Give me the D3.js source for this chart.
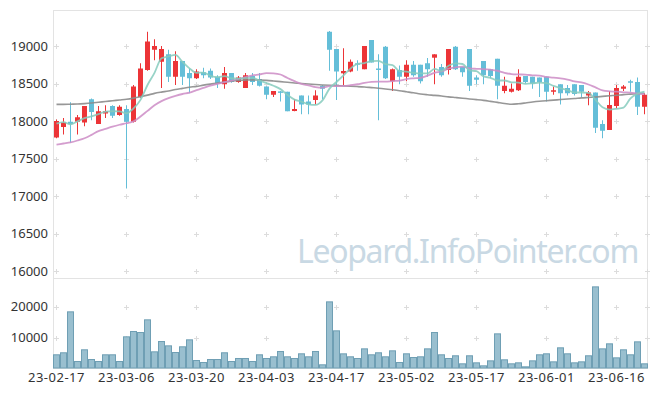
<!DOCTYPE html>
<html lang="ko">
<head>
    <meta charset="utf-8">
    <title>Leopard candle chart</title>
    <script src="https://d3js.org/d3.v7.min.js"></script>
    <style>
        body { margin: 0; background: #fff; }
        svg { display: block; }
        text { font-family: "Noto Sans", sans-serif; }
    </style>
</head>
<body>
<div id="chart"></div>
<script>
    // trading days shown on the chart
    const dates = [
        "23-02-17","23-02-20","23-02-21","23-02-22","23-02-23","23-02-24","23-02-27","23-02-28",
        "23-03-02","23-03-03","23-03-06","23-03-07","23-03-08","23-03-09","23-03-10","23-03-13",
        "23-03-14","23-03-15","23-03-16","23-03-17","23-03-20","23-03-21","23-03-22","23-03-23",
        "23-03-24","23-03-27","23-03-28","23-03-29","23-03-30","23-03-31",
        "23-04-03","23-04-04","23-04-05","23-04-06","23-04-07","23-04-10","23-04-11","23-04-12",
        "23-04-13","23-04-14","23-04-17","23-04-18","23-04-19","23-04-20","23-04-21","23-04-24",
        "23-04-25","23-04-26","23-04-27","23-04-28",
        "23-05-02","23-05-03","23-05-04","23-05-08","23-05-09","23-05-10","23-05-11","23-05-12",
        "23-05-15","23-05-16","23-05-17","23-05-18","23-05-19","23-05-22","23-05-23","23-05-24",
        "23-05-25","23-05-26","23-05-30","23-05-31",
        "23-06-01","23-06-02","23-06-05","23-06-07","23-06-08","23-06-09","23-06-12","23-06-13",
        "23-06-14","23-06-15","23-06-16","23-06-19","23-06-20","23-06-21","23-06-22"
    ];

    const opens = [
        17780,17920,17990,17990,17980,18290,17960,18100,18200,18080,
        18160,17990,18320,18680,18950,18790,18890,18590,18800,18640,
        18570,18650,18670,18590,18490,18640,18520,18440,18600,18560,
        18460,18350,18395,18390,18133,18340,18260,18280,18470,19190,
        18960,18636,18660,18770,18690,19080,18700,18990,18530,18680,
        18590,18750,18750,18770,18844,18720,18680,18990,18720,18960,
        18580,18800,18690,18830,18400,18390,18410,18600,18590,18580,
        18590,18390,18490,18440,18490,18480,18340,18380,17960,17880,
        18200,18430,18530,18520,18190
    ];
    const highs = [
        18020,18040,18250,18080,18200,18300,18200,18210,18210,18210,
        18210,18480,18770,19190,19090,19000,18950,18930,18800,18700,
        18690,18710,18700,18610,18720,18640,18600,18640,18640,18640,
        18460,18400,18400,18390,18290,18340,18340,18410,18480,19200,
        18960,18970,18820,18810,19000,19080,18890,19000,18700,18740,
        18810,18800,18750,18840,18890,18760,18960,19000,18720,18960,
        18610,18800,18690,18830,18590,18500,18690,18600,18590,18580,
        18590,18460,18490,18480,18490,18480,18400,18380,18010,18400,
        18480,18480,18550,18580,18370
    ];
    const lows = [
        17770,17820,17710,17820,17930,18010,17960,18040,18040,18070,
        17100,17980,18310,18670,18810,18440,18520,18480,18480,18370,
        18560,18570,18560,18440,18430,18510,18510,18440,18480,18460,
        18290,18320,18260,18130,18130,18090,18090,18220,18290,18670,
        18280,18480,18650,18670,18690,18780,18010,18560,18400,18490,
        18530,18590,18500,18590,18490,18590,18620,18680,18590,18400,
        18490,18490,18570,18290,18370,18380,18400,18500,18430,18320,
        18260,18350,18220,18340,18340,18320,18210,17840,17770,17880,
        18170,18400,18390,18080,18090
    ];
    const closes = [
        18000,17980,17960,18050,18200,18120,18130,18130,18070,18190,
        17990,18460,18700,19060,19000,18960,18590,18800,18590,18570,
        18660,18610,18580,18500,18640,18520,18580,18610,18520,18470,
        18350,18400,18385,18130,18160,18220,18220,18340,18430,18950,
        18660,18667,18790,18750,19000,18780,18690,18570,18690,18590,
        18750,18610,18530,18690,18889,18610,18960,18690,18650,18470,
        18550,18610,18600,18470,18470,18430,18590,18520,18500,18520,
        18390,18410,18370,18370,18360,18390,18380,17910,17870,18213,
        18440,18460,18520,18190,18350
    ];
    const volumes = [
        4420,5070,18280,2260,6030,2900,2260,4420,4420,2260,
        10220,11940,11610,15700,5380,8710,7310,5160,7000,9250,
        2580,1940,2900,2900,5070,2260,3230,3230,2260,4420,
        3230,3770,5490,3770,3230,4740,3770,5490,1190,21500,
        12150,4730,3770,3230,6340,4420,5070,3770,5700,1940,
        4740,3550,3770,6340,11610,4420,3230,4100,1510,4100,
        1830,860,2470,11180,2800,1510,1830,540,2470,4420,
        4740,2150,6670,4740,1830,2150,4100,26340,6340,7960,
        3440,6030,4420,8600,1510
    ];

    // moving average lines
    const ma5 = [
        17965,17985,17955,17995,18038,18062,18092,18126,18130,18128,
        18102,18168,18282,18480,18642,18836,18862,18882,18788,18702,
        18642,18646,18602,18584,18598,18570,18564,18570,18574,18540,
        18506,18470,18425,18347,18285,18259,18223,18214,18274,18432,
        18520,18609,18699,18763,18773,18797,18802,18758,18746,18664,
        18658,18642,18634,18634,18694,18666,18736,18768,18760,18676,
        18664,18594,18576,18540,18540,18516,18512,18496,18502,18512,
        18504,18468,18438,18412,18380,18380,18374,18282,18182,18153,
        18163,18179,18301,18365,18392
    ];
    const ma20 = [
        17685,17700,17715,17740,17770,17815,17865,17895,17925,17950,
        17970,17995,18060,18135,18210,18265,18305,18335,18360,18378,
        18411,18442,18473,18496,18518,18538,18560,18584,18607,18621,
        18639,18636,18620,18573,18531,18494,18476,18453,18445,18464,
        18464,18467,18477,18490,18508,18521,18526,18524,18533,18539,
        18559,18569,18576,18604,18641,18660,18697,18715,18726,18702,
        18696,18693,18684,18670,18643,18626,18621,18618,18609,18605,
        18587,18577,18569,18553,18527,18516,18487,18448,18409,18396,
        18391,18383,18379,18365,18359
    ];
    const ma60 = [
        18222,18222,18224,18226,18232,18240,18250,18260,18270,18280,
        18290,18305,18324,18345,18368,18385,18400,18420,18435,18450,
        18462,18478,18492,18505,18520,18532,18542,18546,18548,18547,
        18542,18534,18525,18516,18507,18500,18494,18487,18481,18476,
        18472,18468,18464,18459,18453,18445,18437,18427,18416,18404,
        18390,18376,18360,18350,18342,18333,18322,18313,18304,18294,
        18285,18275,18262,18248,18234,18223,18230,18241,18253,18263,
        18271,18278,18286,18293,18300,18308,18314,18320,18328,18336,
        18343,18352,18358,18364,18369
    ];

    const priceTicks = [16000, 16500, 17000, 17500, 18000, 18500, 19000];
    const volumeTicks = [10000, 20000];
    const dateTickEvery = 10;

    const W = 657, H = 396;
    const plotLeft = 53, plotRight = 648;
    const priceTop = 10, priceBottom = 278, volBottom = 368;

    const svg = d3.select("#chart")
        .append("svg")
        .attr("width", W)
        .attr("height", H);

    const x = d3.scaleBand()
        .domain(dates)
        .range([plotLeft, plotRight])
        .padding(0);
    const cx = d => x(d) + x.bandwidth() / 2;

    const y = d3.scaleLinear()
        .domain([16000, 19000])
        .range([271, 46]);

    const yVol = d3.scaleLinear()
        .domain([0, 29200])
        .range([368.5, priceBottom]);

    // frame
    const frame = svg.append("g")
        .attr("stroke", "#e3e3e3")
        .attr("stroke-width", 1)
        .attr("fill", "none");
    frame.append("rect")
        .attr("x", plotLeft + 0.5)
        .attr("y", priceTop + 0.5)
        .attr("width", plotRight - plotLeft - 1)
        .attr("height", volBottom - priceTop);
    frame.append("line")
        .attr("x1", plotLeft).attr("x2", plotRight)
        .attr("y1", priceBottom + 0.5).attr("y2", priceBottom + 0.5);

    // little "+" grid marks
    const gridX = dates.filter((d, i) => i % dateTickEvery === 0).map(cx).concat([plotRight - 0.5]);
    const gridY = priceTicks.map(y).concat(volumeTicks.map(yVol));
    const marks = [];
    gridX.forEach(gx => gridY.forEach(gy => marks.push([gx, gy])));
    svg.append("g")
        .selectAll("path")
        .data(marks)
        .join("path")
        .attr("d", d => `M${d[0] - 2.5},${Math.round(d[1]) + 0.5}h5M${d[0]},${Math.round(d[1]) - 2}v5`)
        .attr("stroke", "#dcdcdc")
        .attr("stroke-width", 1);

    // watermark: squeeze the letters together until it fits its spot
    const wm = svg.append("text")
        .attr("x", 297)
        .attr("y", 263)
        .attr("font-size", 32)
        .attr("fill", "#c9d9e4")
        .text("Leopard.InfoPointer.com");
    const wmText = "Leopard.InfoPointer.com";
    const natural = wm.node().getComputedTextLength();
    let spacing = (341 - natural) / wmText.length;
    if (spacing < -1.6) {
        spacing = -1.6;
        const shrunk = 32 * 341 / (natural + spacing * wmText.length);
        wm.attr("font-size", Math.min(32, shrunk));
    }
    wm.attr("letter-spacing", spacing);

    // y axis labels
    svg.append("g")
        .selectAll("text")
        .data(priceTicks)
        .join("text")
        .attr("x", 48)
        .attr("y", d => y(d) + 4.5)
        .attr("text-anchor", "end")
        .attr("font-size", 13)
        .attr("fill", "#333")
        .text(d => d);

    svg.append("g")
        .selectAll("text")
        .data(volumeTicks)
        .join("text")
        .attr("x", 48)
        .attr("y", d => yVol(d) + 4.5)
        .attr("text-anchor", "end")
        .attr("font-size", 13)
        .attr("fill", "#333")
        .text(d => d);

    // x axis labels
    svg.append("g")
        .selectAll("text")
        .data(dates.filter((d, i) => i % dateTickEvery === 0))
        .join("text")
        .attr("x", d => cx(d))
        .attr("y", 382)
        .attr("text-anchor", "middle")
        .attr("font-size", 13)
        .attr("letter-spacing", 0.5)
        .attr("fill", "#333")
        .text(d => d);

    // volume bars
    svg.append("g")
        .selectAll("rect")
        .data(dates)
        .join("rect")
        .attr("x", d => x(d) + 0.5)
        .attr("width", x.bandwidth() - 1)
        .attr("y", (d, i) => yVol(volumes[i]))
        .attr("height", (d, i) => volBottom - yVol(volumes[i]))
        .attr("fill", "#99bfcf")
        .attr("stroke", "#6f9fb4")
        .attr("stroke-width", 1);

    // candles
    const up = "#ec3437", down = "#64bed8";
    const candles = svg.append("g")
        .selectAll("g")
        .data(dates)
        .join("g");
    candles.append("line")
        .attr("x1", d => cx(d)).attr("x2", d => cx(d))
        .attr("y1", (d, i) => y(highs[i]))
        .attr("y2", (d, i) => y(lows[i]))
        .attr("stroke", (d, i) => closes[i] >= opens[i] ? up : down)
        .attr("stroke-width", 1);
    candles.append("rect")
        .attr("x", d => cx(d) - 2.5)
        .attr("width", 5)
        .attr("y", (d, i) => y(Math.max(opens[i], closes[i])))
        .attr("height", (d, i) => Math.max(1.5, Math.abs(y(opens[i]) - y(closes[i]))))
        .attr("fill", (d, i) => closes[i] >= opens[i] ? up : down);

    // moving averages
    const maLine = arr => d3.line()
        .x((d, i) => cx(dates[i]))
        .y(d => y(d))
        .curve(d3.curveMonotoneX)(arr);

    svg.append("path")
        .attr("d", maLine(ma60))
        .attr("fill", "none")
        .attr("stroke", "#8c8c8c")
        .attr("stroke-width", 1.6)
        .attr("opacity", 0.9);
    svg.append("path")
        .attr("d", maLine(ma20))
        .attr("fill", "none")
        .attr("stroke", "#cc8cc6")
        .attr("stroke-width", 1.8)
        .attr("opacity", 0.85);
    svg.append("path")
        .attr("d", maLine(ma5))
        .attr("fill", "none")
        .attr("stroke", "#86cbbd")
        .attr("stroke-width", 1.8)
        .attr("opacity", 0.85);
</script>
</body>
</html>
